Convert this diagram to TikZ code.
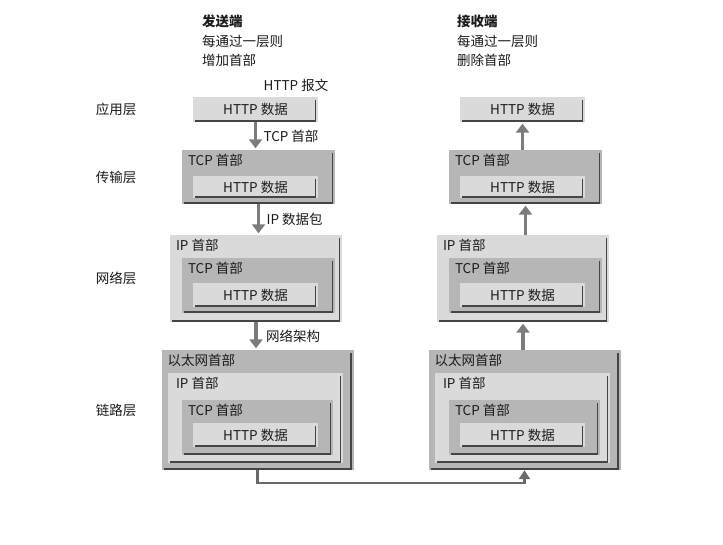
\documentclass[tikz,border=0pt]{standalone}
\usepackage{fontspec}
\setmainfont{Noto Sans CJK SC}
\usetikzlibrary{arrows.meta}

\definecolor{lightpkt}{HTML}{DADADA}
\definecolor{darkpkt}{HTML}{B6B6B6}
\definecolor{edgegray}{HTML}{454545}
\definecolor{arrowgray}{HTML}{7C7C7C}
\definecolor{inkgray}{HTML}{1C1C1C}

\tikzset{
  pkt/.style={fill=#1, inner sep=0pt, path picture={
      \draw[edgegray, line width=1.7pt]
        ([shift={(2pt,1pt)}]path picture bounding box.south west) --
        ([shift={(-2.5pt,1pt)}]path picture bounding box.south east) --
        ([shift={(-2.5pt,-3pt)}]path picture bounding box.north east);}},
  light/.style={pkt=lightpkt},
  dark/.style={pkt=darkpkt},
  tag/.style={anchor=north west, inner sep=0pt},
  flow/.style={arrowgray, line width=3.5pt, shorten >=1.5pt,
    -{Triangle[width=13pt,length=9pt]}},
  wire/.style={arrowgray!85!black, line width=2.2pt,
    -{Triangle[width=11pt,length=9pt]}}
}

\begin{document}
\begin{tikzpicture}[x=1pt, y=-1pt,
    every node/.style={font=\fontsize{13.5pt}{19.5pt}\selectfont, text=inkgray}]
  \fill[white] (0,0) rectangle (723,544);
  \useasboundingbox (0,0) rectangle (723,544);

  % headings
  \node[anchor=north west, align=left, inner sep=0pt] (sendHdr) at (202,15)
    {\textbf{发送端}\\每通过一层则\\增加首部};
  \node[anchor=north west, align=left, inner sep=0pt] (recvHdr) at (457,15)
    {\textbf{接收端}\\每通过一层则\\删除首部};
  \node (msgL) at (296,85) {HTTP 报文};

  % both columns
  \foreach \s/\dx in {L/0,R/267}{
    \node[light, minimum width=125, minimum height=25] (app\s) at ({255.5+\dx},109.5) {HTTP 数据};

    \node[dark, minimum width=153, minimum height=54] (tra\s) at ({258.5+\dx},177) {};
    \node[tag] (traTxt\s) at ([shift={(6,4)}]tra\s.north west) {TCP 首部};
    \node[light, minimum width=125, minimum height=22] (traHttp\s) at ({255.5+\dx},187) {HTTP 数据};

    \node[light, minimum width=172, minimum height=87] (net\s) at ({256+\dx},278.5) {};
    \node[tag] (netTxt\s) at ([shift={(6,4)}]net\s.north west) {IP 首部};
    \node[dark, minimum width=153, minimum height=55] (netTcp\s) at ({258.5+\dx},285.5) {};
    \node[tag] (netTcpTxt\s) at ([shift={(6,4)}]netTcp\s.north west) {TCP 首部};
    \node[light, minimum width=125, minimum height=24] (netHttp\s) at ({255.5+\dx},295) {HTTP 数据};

    \node[dark, minimum width=192, minimum height=120] (link\s) at ({257.5+\dx},410) {};
    \node[tag] (linkTxt\s) at ([shift={(6,4)}]link\s.north west) {以太网首部};
    \node[light, minimum width=175, minimum height=90] (linkIp\s) at ({255.5+\dx},418) {};
    \node[tag] (linkIpTxt\s) at ([shift={(8,4)}]linkIp\s.north west) {IP 首部};
    \node[dark, minimum width=151, minimum height=55] (linkTcp\s) at ({257.5+\dx},427.5) {};
    \node[tag] (linkTcpTxt\s) at ([shift={(6,4)}]linkTcp\s.north west) {TCP 首部};
    \node[light, minimum width=125, minimum height=24] (linkHttp\s) at ({255.5+\dx},435) {HTTP 数据};
  }

  % layer names
  \node (layApp) at (116,0 |- appL) {应用层};
  \node (layTra) at (116,0 |- traL) {传输层};
  \node (layNet) at (116,0 |- netL) {网络层};
  \node (layLink) at (116,0 |- linkL) {链路层};

  % sending side
  \draw[flow] (appL.south) -- (appL.south |- traL.north)
    node[midway, right=3pt] (addTcp) {TCP 首部};
  \draw[flow] (traL.south) -- (traL.south |- netL.north)
    node[midway, right=3pt] (addIp) {IP 数据包};
  \draw[flow] (netL.south) -- (netL.south |- linkL.north)
    node[midway, right=5pt] (addLink) {网络架构};

  % receiving side
  \draw[flow] (appR.south |- traR.north) -- (appR.south);
  \draw[flow] (traR.south |- netR.north) -- (traR.south);
  \draw[flow] (netR.south |- linkR.north) -- (netR.south);

  \draw[wire] (linkL.south) -- ++(0,13) -| (linkR.south);
\end{tikzpicture}
\end{document}
